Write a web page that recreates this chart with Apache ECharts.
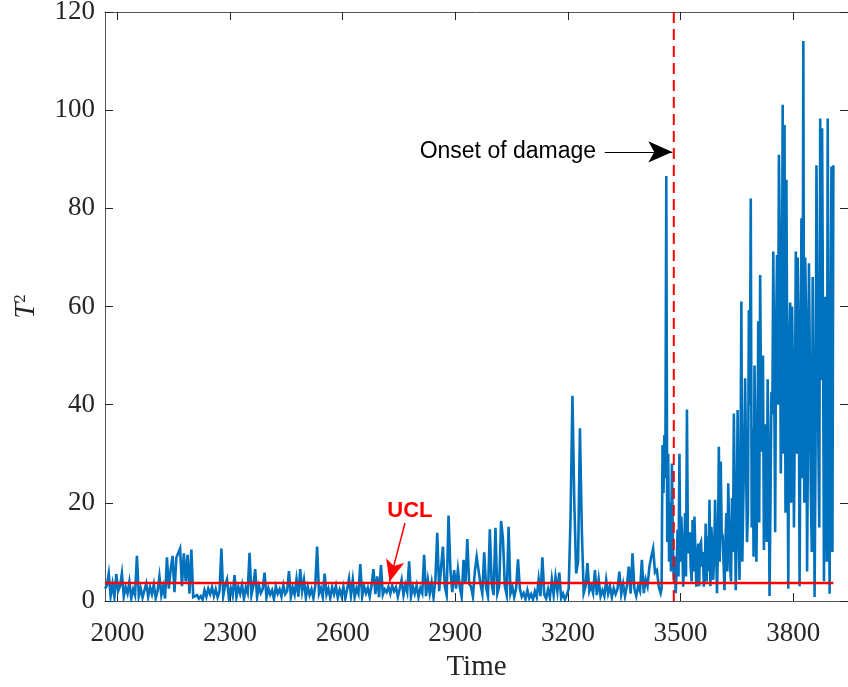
<!DOCTYPE html>
<html><head><meta charset="utf-8">
<script src="https://cdn.jsdelivr.net/npm/echarts@6/dist/echarts.min.js"></script>
<style>html,body{margin:0;padding:0;background:#fff}#chart{width:848px;height:687px}</style>
</head><body><div id="chart"></div>
<script>
// ---- data ----
// early part: one reading every 5 time units from 1967 to 3447
const earlyStart = 1967;
const earlyStep = 5;
const t2Early = [
  2.5,
  // 1972-2067
  3.2, 5.6, 1.0, 3.5, 0.8, 5.5, 2.0, 3.0, 5.6, 0.9, 2.8, 1.5, 3.9, 0.6, 2.4, 1.2, 9.2, 1.0, 2.6, 0.7,
  // 2072-2167
  2.2, 3.6, 0.9, 2.8, 1.4, 3.4, 0.6, 2.0, 5.0, 1.2, 3.0, 0.5, 8.9, 2.5, 6.5, 9.2, 1.8, 8.8, 8.5, 10.7,
  // 2172-2267
  3.0, 9.7, 4.0, 9.4, 1.5, 10.5, 0.8, 0.4, 1.2, 0.5, 1.0, 0.3, 2.2, 0.9, 2.5, 1.4, 2.8, 1.0, 2.4, 0.8,
  // 2272-2367
  2.0, 10.7, 1.0, 3.2, 4.4, 0.6, 2.6, 1.1, 5.3, 0.8, 2.9, 1.5, 3.3, 0.5, 2.7, 1.6, 9.8, 1.2, 3.0, 6.5,
  // 2372-2467
  0.8, 3.1, 1.6, 2.4, 5.8, 0.7, 2.6, 1.3, 2.2, 0.4, 3.0, 1.5, 2.4, 0.9, 3.2, 1.4, 2.0, 6.1, 0.8, 2.7,
  // 2472-2567
  1.3, 4.4, 0.9, 6.5, 2.0, 4.3, 0.7, 2.9, 1.2, 2.4, 0.6, 3.1, 11.1, 1.5, 2.6, 0.8, 5.6, 1.3, 2.5, 0.6,
  // 2572-2667
  2.8, 1.4, 3.1, 0.7, 2.3, 1.0, 2.9, 0.5, 2.4, 4.6, 1.1, 4.3, 0.8, 2.6, 1.5, 7.5, 0.9, 3.0, 1.6, 2.7,
  // 2672-2767
  0.9, 3.2, 6.5, 1.4, 5.0, 0.8, 7.3, 1.3, 2.4, 1.8, 2.9, 1.5, 3.1, 2.0, 2.8, 0.9, 2.5, 4.3, 1.2, 3.3,
  // 2772-2867
  1.8, 8.1, 0.9, 2.9, 1.5, 3.2, 0.8, 2.6, 1.6, 9.4, 1.0, 4.3, 1.5, 3.8, 0.7, 4.4, 13.9, 2.0, 6.7, 11.1,
  // 2872-2967
  3.0, 1.2, 17.4, 6.4, 1.8, 6.3, 2.5, 6.4, 2.9, 0.8, 8.4, 3.5, 12.6, 3.5, 2.9, 0.9, 6.0, 9.0, 8.6, 3.5,
  // 2972-3067
  1.5, 9.9, 2.8, 1.0, 14.6, 3.5, 1.2, 14.9, 1.5, 3.0, 16.3, 12.6, 3.0, 1.2, 15.1, 1.5, 2.8, 0.8, 2.6, 8.5,
  // 3072-3167
  2.5, 0.9, 1.6, 0.4, 2.2, 0.6, 1.4, 0.3, 2.0, 0.8, 4.4, 1.0, 8.9, 1.3, 0.5, 2.4, 0.7, 4.4, 1.2, 4.9,
  // 3172-3267
  2.0, 5.8, 0.6, 1.5, 0.3, 1.2, 2.5, 17.0, 41.8, 20.0, 5.6, 8.0, 35.2, 14.5, 1.6, 3.0, 7.7, 2.0, 3.1, 1.6,
  // 3272-3367
  6.3, 1.2, 4.4, 1.0, 2.2, 1.0, 4.3, 1.5, 3.0, 0.8, 2.6, 1.4, 2.4, 6.0, 1.4, 3.5, 1.0, 3.0, 7.0, 1.5,
  // 3372-3447
  9.7, 2.5, 1.0, 3.0, 2.0, 8.4, 1.6, 4.4, 3.0, 7.0, 9.0, 10.7, 5.8, 6.3, 2.9, 1.6
];
// late part: one reading every 2.5 time units from 3449.5 to 3907
const lateStart = 3449.5;
const lateStep = 2.5;
const t2Late = [
  2.5, 31.8, 22.0, 33.8, 25.0, 86.6, 12.0, 30.0, 8.0, 20.0,
  6.0, 28.0, 12.0, 4.3, 9.0, 1.6, 6.0, 14.5, 5.0, 30.0,
  8.0, 17.2, 12.0, 2.9, 8.0, 17.9, 5.0, 39.0, 12.0, 9.7,
  14.0, 7.0, 4.0, 16.5, 6.0, 17.2, 10.0, 2.9, 8.0, 11.7,
  3.0, 11.4, 12.0, 7.0, 10.0, 2.9, 6.0, 15.8, 4.0, 13.2,
  6.0, 20.6, 3.0, 15.1, 11.0, 4.3, 9.0, 20.6, 12.0, 1.6,
  10.0, 31.4, 8.0, 28.4, 14.0, 13.2, 8.0, 2.2, 12.0, 17.9,
  6.0, 24.0, 15.0, 7.0, 4.0, 21.0, 10.0, 38.2, 20.0, 2.2,
  14.0, 38.9, 18.0, 4.3, 25.0, 61.0, 8.0, 20.0, 30.0, 45.4,
  28.0, 12.0, 18.0, 59.3, 40.0, 82.0, 15.0, 35.2, 9.0, 48.0,
  32.0, 8.0, 25.0, 57.0, 16.0, 66.4, 40.0, 30.4, 50.0, 10.4,
  36.0, 28.0, 12.0, 45.2, 30.0, 1.0, 20.0, 42.6, 38.0, 71.2,
  45.0, 14.0, 55.0, 70.5, 40.0, 90.9, 71.5, 26.0, 48.0, 101.1,
  30.0, 97.0, 18.0, 85.8, 40.0, 2.5, 52.0, 60.8, 20.0, 60.0,
  45.0, 15.0, 38.0, 71.2, 30.0, 70.0, 55.0, 3.0, 40.0, 78.0,
  25.0, 114.1, 20.0, 70.0, 58.0, 6.0, 35.0, 68.8, 48.0, 22.0,
  10.0, 66.0, 40.0, 0.8, 30.0, 88.8, 60.0, 32.0, 15.0, 98.3,
  45.0, 96.3, 55.0, 4.0, 62.0, 48.0, 8.0, 98.3, 40.0, 1.5,
  50.0, 88.5, 10.0, 88.8
];
const xTicks = [2000, 2300, 2600, 2900, 3200, 3500, 3800];
const xRange = [1967, 3946];
const yRange = [0, 120];
const yInterval = 20;
const uclValue = 3.67;
const onsetTime = 3482;
const onsetArrow = [[3298, 91.5], [3478, 91.5]];
const onsetText = [3040, 91.5];
const uclArrow = [[2766, 15.9], [2725, 3.9]];
const uclText = [2779, 18.3];

// ---- build ----
const t2Data = t2Early.map((v, i) => [earlyStart + i * earlyStep, v])
  .concat(t2Late.map((v, i) => [lateStart + i * lateStep, v]));
const firstTime = t2Data[0][0];
const lastTime = t2Data[t2Data.length - 1][0];

const serif = 'Liberation Serif';
const sans = 'Liberation Sans';
const axisColor = '#555';
const textColor = '#262626';

const chart = echarts.init(document.getElementById('chart'), null, {renderer: 'canvas'});
chart.setOption({
  animation: false,
  backgroundColor: '#fff',
  grid: {left: 105, top: 12, right: 0, bottom: 86, containLabel: false, outerBoundsMode: 'none'},
  xAxis: [
    {
      type: 'value', position: 'bottom', min: xRange[0], max: xRange[1],
      axisLine: {show: true, onZero: false, lineStyle: {color: axisColor, width: 1}},
      axisTick: {show: true, inside: true, length: 8, customValues: xTicks, lineStyle: {color: textColor}},
      axisLabel: {show: true, customValues: xTicks, formatter: (v) => String(v), color: textColor, fontFamily: serif, fontSize: 27, margin: 19},
      splitLine: {show: false},
      name: 'Time', nameLocation: 'middle', nameGap: 52,
      nameTextStyle: {color: textColor, fontFamily: serif, fontSize: 29}
    },
    {
      type: 'value', position: 'top', min: xRange[0], max: xRange[1],
      axisLine: {show: true, onZero: false, lineStyle: {color: axisColor, width: 1}},
      axisTick: {show: true, inside: true, length: 8, customValues: xTicks, lineStyle: {color: textColor}},
      axisLabel: {show: false},
      splitLine: {show: false}
    }
  ],
  yAxis: [
    {
      type: 'value', position: 'left', min: yRange[0], max: yRange[1], interval: yInterval,
      axisLine: {show: true, onZero: false, lineStyle: {color: axisColor, width: 1}},
      axisTick: {show: true, inside: true, length: 8, lineStyle: {color: textColor}},
      axisLabel: {color: textColor, fontFamily: serif, fontSize: 27, margin: 10},
      splitLine: {show: false},
      name: '{t|T}{s|2}', nameLocation: 'middle', nameGap: 64, nameRotate: 90,
      nameTextStyle: {
        rich: {
          t: {fontFamily: serif, fontStyle: 'italic', fontSize: 29, color: textColor},
          s: {fontFamily: serif, fontSize: 17, color: textColor, verticalAlign: 'bottom', padding: [0, 0, 12, 0]}
        }
      }
    },
    {
      type: 'value', position: 'right', min: yRange[0], max: yRange[1], interval: yInterval,
      axisLine: {show: true, onZero: false, lineStyle: {color: axisColor, width: 1}},
      axisTick: {show: true, inside: true, length: 8, lineStyle: {color: textColor}},
      axisLabel: {show: false},
      splitLine: {show: false}
    }
  ],
  series: [
    {
      type: 'line', data: t2Data, symbol: 'none', showSymbol: false, clip: true,
      lineStyle: {color: '#0072BD', width: 2.6, join: 'miter'}, itemStyle: {color: '#0072BD'}, z: 2, silent: true
    },
    {
      type: 'line', data: [[firstTime, uclValue], [lastTime, uclValue]], symbol: 'none', clip: true,
      lineStyle: {color: '#FF0000', width: 2.5}, z: 3, silent: true,
      markLine: {
        silent: true, symbol: ['none', 'arrow'], symbolSize: [14, 22], animation: false,
        label: {show: false}, lineStyle: {color: '#FF0000', width: 1.5, type: 'solid'},
        data: [[{coord: uclArrow[0]}, {coord: uclArrow[1]}]]
      },
      markPoint: {
        silent: true, symbol: 'rect', symbolSize: 1, itemStyle: {color: 'rgba(0,0,0,0)'},
        label: {show: true, position: 'inside', formatter: 'UCL', color: '#FF0000', fontWeight: 'bold', fontSize: 22, fontFamily: sans},
        data: [{coord: uclText}]
      }
    },
    {
      type: 'line', data: [[onsetTime, yRange[0]], [onsetTime, yRange[1]]], symbol: 'none',
      lineStyle: {color: '#FF0000', width: 2, type: [11, 6]}, z: 4, silent: true,
      markLine: {
        silent: true, symbol: ['none', 'arrow'], symbolSize: [16, 24], animation: false,
        label: {show: false}, lineStyle: {color: '#000', width: 1.2, type: 'solid'},
        data: [[{coord: onsetArrow[0]}, {coord: onsetArrow[1]}]]
      },
      markPoint: {
        silent: true, symbol: 'rect', symbolSize: 1, itemStyle: {color: 'rgba(0,0,0,0)'},
        label: {show: true, position: 'inside', formatter: 'Onset of damage', color: '#000', fontSize: 23, fontFamily: sans},
        data: [{coord: onsetText}]
      }
    }
  ]
});
</script>
</body></html>
